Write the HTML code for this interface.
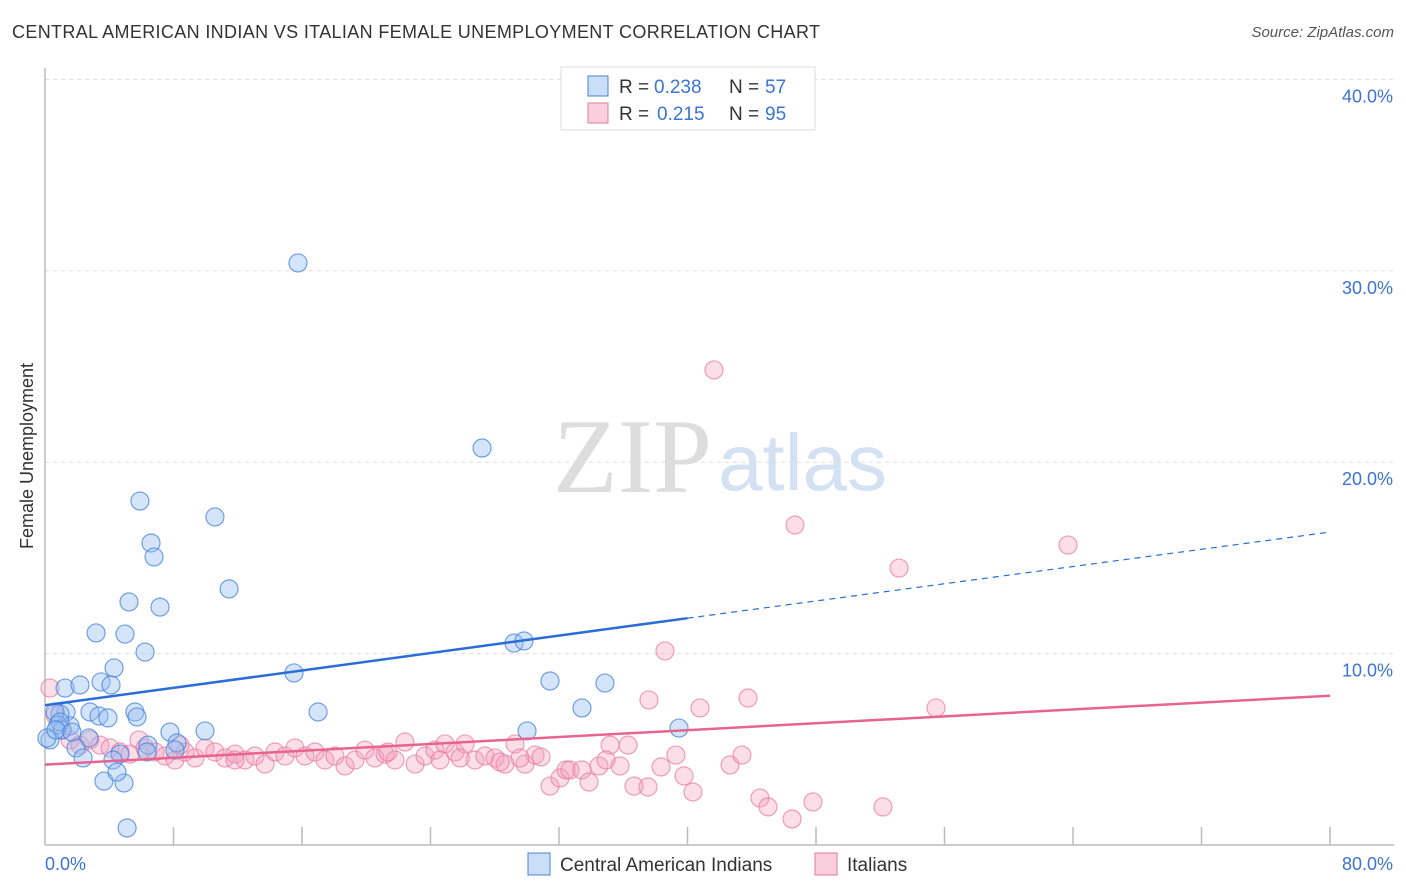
<!DOCTYPE html>
<html><head><meta charset="utf-8">
<style>
body{margin:0;background:#fff;font-family:"Liberation Sans",sans-serif;}
#wrap{position:relative;width:1406px;height:892px;overflow:hidden;}
.title{position:absolute;left:12px;top:22px;font-size:18px;color:#333;letter-spacing:0.35px}
.source{position:absolute;right:12px;top:24px;font-size:15px;color:#555;font-style:italic}
</style></head><body>
<div id="wrap">
<div class="title">CENTRAL AMERICAN INDIAN VS ITALIAN FEMALE UNEMPLOYMENT CORRELATION CHART</div>
<div class="source">Source: ZipAtlas.com</div>
<svg id="svg" width="1406" height="892" style="position:absolute;left:0;top:0"></svg>
</div>
<script>
const xTicks=[0,80];
const yTicks=[10,20,30,40];
const blueX=[298,482,140,215,151,154,229,129,160,96,125,145,514,524,114,294,65,80,101,111,550,605,582,318,90,99,108,135,137,66,60,55,170,205,527,679,70,58,62,89,76,148,177,175,120,113,83,104,124,117,127,50,60,47,147,56,72].map(p=>+((p-45)*80/1285).toFixed(2));
const blueY=[263,448,501,517,543,557,589,602,607,633,634,652,643,641,668,673,688,685,682,685,681,683,708,712,712,716,718,712,717,712,714,712,732,731,731,728,726,725,730,738,748,745,743,750,754,760,758,781,783,772,828,740,722,738,752,730,732].map(p=>+((845-p)/19.14).toFixed(2));
const pinkX=[714,795,1068,899,665,649,748,700,936,50,139,55,62,70,80,90,100,110,120,130,145,155,165,175,185,195,205,215,225,235,245,255,265,275,285,295,305,315,325,335,345,355,365,375,385,395,405,415,425,435,445,455,465,475,485,495,505,515,525,535,541,550,560,566,570,582,589,599,610,606,620,628,634,648,661,676,684,693,730,742,760,768,792,813,883,440,500,460,388,520,180,235].map(p=>+((p-45)*80/1285).toFixed(2));
const pinkY=[370,525,545,568,651,700,698,708,708,688,740,715,730,740,745,740,745,748,752,754,748,752,756,760,752,758,748,752,758,754,760,756,764,752,756,748,756,752,760,756,766,760,750,758,754,760,742,764,756,750,744,752,744,760,756,758,764,744,764,755,757,786,778,770,770,770,782,766,745,760,766,745,786,787,767,755,776,792,765,755,798,807,819,802,807,760,762,758,752,758,745,760].map(p=>+((845-p)/19.14).toFixed(2));
const blueTrend=[7.3,11.85,16.35]; // at x=0, 40, 80
const pinkTrend=[4.2,7.8]; // at x=0, 80

const svg=document.getElementById('svg');const NS='http://www.w3.org/2000/svg';
const X=v=>45+v*1285/80, Y=v=>845-v*19.14;
function mk(t,a,parent){const e=document.createElementNS(NS,t);for(const k in a)e.setAttribute(k,a[k]);(parent||svg).appendChild(e);return e;}
let w=mk('text',{x:553,y:492,'font-size':106,'font-family':'Liberation Serif,serif',fill:'#ddd'});w.textContent='ZIP';


w=mk('text',{x:718,y:490,'font-size':80,'font-family':'Liberation Sans,sans-serif',fill:'#d3e1f3'});w.textContent='atlas';


yTicks.forEach(t=>{let g=mk('line',{x1:45,x2:1394,y1:Y(t),y2:Y(t),stroke:'#ddd','stroke-dasharray':'4,4'});


let l=mk('text',{x:1393,y:Y(t)+23,'text-anchor':'end','font-size':18,fill:'#3b73d6'});l.textContent=t.toFixed(1)+'%';

});
let ax=mk('line',{x1:45,x2:45,y1:68,y2:845,stroke:'#bbb','stroke-width':1.5});


ax=mk('line',{x1:45,x2:1394,y1:845,y2:845,stroke:'#bbb','stroke-width':1.5});


for(let i=1;i<=10;i++){let t=mk('line',{x1:X(i*8),x2:X(i*8),y1:827,y2:845,stroke:'#bbb','stroke-width':1.5});

}
xTicks.forEach((t,i)=>{let l=mk('text',{x:i?1393:45,y:870,'text-anchor':i?'end':'start','font-size':18,fill:'#3b73d6'});l.textContent=t.toFixed(1)+'%';

});
let yt=mk('text',{x:0,y:0,'font-size':18,fill:'#333','text-anchor':'middle',transform:'translate(33,456) rotate(-90)'});yt.textContent='Female Unemployment';


pinkX.forEach((x,i)=>{let c=mk('circle',{cx:X(x),cy:Y(pinkY[i]),r:9,fill:'rgba(244,160,188,0.35)',stroke:'rgba(232,120,160,0.7)','stroke-width':1.2});

});
blueX.forEach((x,i)=>{let c=mk('circle',{cx:X(x),cy:Y(blueY[i]),r:9,fill:'rgba(150,190,240,0.4)',stroke:'rgba(70,130,220,0.75)','stroke-width':1.2});

});
let tl=mk('line',{x1:X(0),y1:Y(blueTrend[0]),x2:X(40),y2:Y(blueTrend[1]),stroke:'#2a6dd6','stroke-width':2.5});


tl=mk('line',{x1:X(40),y1:Y(blueTrend[1]),x2:X(80),y2:Y(blueTrend[2]),stroke:'#2a6dd6','stroke-width':1.2,'stroke-dasharray':'6,5'});


tl=mk('line',{x1:X(0),y1:Y(pinkTrend[0]),x2:X(80),y2:Y(pinkTrend[1]),stroke:'#e8648f','stroke-width':2.5});


let lg=mk('rect',{x:561,y:67,width:254,height:63,fill:'#fff',stroke:'#ddd'});


[['rgba(150,190,240,0.5)','#4a82d8','0.238','57',86],['rgba(244,160,188,0.5)','#e87aa0','0.215','95',113]].forEach(r=>{
let s=mk('rect',{x:588,y:r[4]-10,width:20,height:20,fill:r[0],stroke:r[1]});


[[619,'R =','#333'],[r[2]=='0.238'?654:657,r[2],'#3b73d6'],[729,'N =','#333'],[765,r[3],'#3b73d6']].forEach(p=>{
let t=mk('text',{x:p[0],y:r[4]+7,'font-size':19,fill:p[2]});t.textContent=p[1];

});});
[[528,'rgba(150,190,240,0.5)','#4a82d8','Central American Indians'],[815,'rgba(244,160,188,0.5)','#e87aa0','Italians']].forEach(r=>{
let s=mk('rect',{x:r[0],y:853,width:22,height:22,fill:r[1],stroke:r[2]});


let t=mk('text',{x:r[0]+32,y:871,'font-size':19,fill:'#333'});t.textContent=r[3];

});
</script>
</body></html>
